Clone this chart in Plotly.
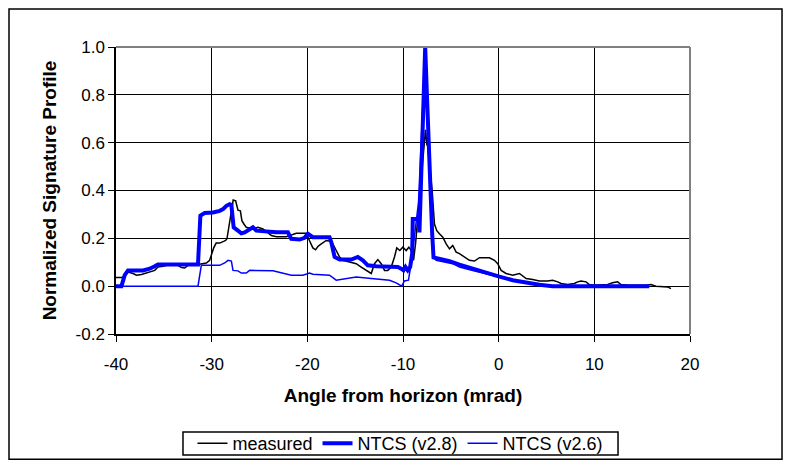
import plotly.graph_objects as go

# ---- data ----
measured_x = [-40.0, -39.33, -39.09, -38.74, -38.22, -37.86, -37.34, -36.82, -36.30, -35.95,
              -35.61, -35.09, -34.04, -33.52, -33.16, -32.82, -32.48, -31.95, -31.43, -30.91,
              -30.55, -30.21, -30.03, -29.79, -29.53, -29.16, -28.75, -28.54, -28.40, -28.19,
              -27.94, -27.75, -27.49, -27.25, -27.00, -26.84, -26.63, -26.38, -25.69, -25.16,
              -24.64, -23.76, -23.24, -22.20, -21.15, -20.11, -19.77, -19.42, -19.14, -18.90,
              -18.54, -18.02, -17.60, -17.33, -16.98, -16.63, -16.29, -15.59, -14.89, -14.37,
              -13.84, -13.32, -12.98, -12.63, -12.28, -11.93, -11.59, -11.23, -10.89, -10.65,
              -10.33, -10.02, -9.67, -9.39, -9.14, -8.90, -8.69, -8.45, -8.10, -7.65,
              -7.51, -7.41, -7.23, -6.95, -6.71, -6.47, -6.19, -5.84, -5.49, -5.14,
              -4.80, -4.44, -4.10, -3.58, -3.06, -2.53, -2.01, -0.97, -0.44, -0.10,
              0.26, 0.78, 1.47, 2.17, 2.87, 3.56, 4.26, 5.12, 5.64, 6.17,
              6.52, 7.21, 7.91, 8.26, 8.61, 9.13, 9.48, 10.0, 11.39, 11.91,
              12.43, 12.79, 13.66, 15.40, 15.92, 16.44, 17.13, 17.65, 18.01]
measured_y = [0.036, 0.036, 0.046, 0.059, 0.053, 0.046, 0.049, 0.055, 0.059, 0.066,
              0.080, 0.083, 0.094, 0.087, 0.078, 0.076, 0.087, 0.091, 0.091, 0.094,
              0.097, 0.108, 0.130, 0.160, 0.180, 0.180, 0.187, 0.191, 0.198, 0.246,
              0.315, 0.360, 0.357, 0.318, 0.315, 0.274, 0.260, 0.246, 0.239, 0.246,
              0.239, 0.212, 0.207, 0.207, 0.221, 0.221, 0.190, 0.160, 0.152, 0.166,
              0.177, 0.191, 0.188, 0.177, 0.149, 0.122, 0.108, 0.101, 0.094, 0.080,
              0.066, 0.053, 0.094, 0.111, 0.094, 0.066, 0.066, 0.080, 0.122, 0.160,
              0.149, 0.163, 0.149, 0.163, 0.149, 0.108, 0.177, 0.288, 0.481, 0.654,
              0.592, 0.585, 0.509, 0.398, 0.260, 0.232, 0.219, 0.205, 0.177, 0.156,
              0.170, 0.142, 0.136, 0.122, 0.108, 0.105, 0.119, 0.119, 0.108, 0.094,
              0.066, 0.053, 0.046, 0.053, 0.032, 0.028, 0.022, 0.022, 0.025, 0.018,
              0.011, 0.007, 0.011, 0.018, 0.022, 0.018, 0.007, 0.004, 0.007, 0.014,
              0.018, 0.007, 0.004, 0.004, 0.007, 0.000, -0.003, -0.003, -0.010]

v28_x = [-40.0, -39.43, -39.09, -38.74, -37.17, -36.48, -35.95, -35.61, -31.43, -31.33,
         -31.18, -30.73, -29.86, -29.16, -28.81, -28.46, -28.12, -27.94, -27.84, -27.70,
         -27.25, -26.90, -26.55, -26.03, -25.69, -25.33, -24.64, -23.24, -22.03, -21.68,
         -20.81, -20.29, -19.94, -19.77, -19.42, -17.68, -17.50, -17.15, -16.63, -15.41,
         -14.72, -14.20, -13.68, -12.80, -11.76, -11.06, -10.54, -10.19, -9.95, -9.74,
         -9.50, -9.25, -9.04, -8.98, -8.35, -8.28, -7.68, -7.51, -7.23, -6.95,
         -6.81, -6.19, -5.49, -5.14, -4.10, -2.71, -1.31, 0.08, 1.47, 2.87,
         4.26, 5.64, 15.74]
v28_y = [0.0, 0.0, 0.046, 0.066, 0.066, 0.073, 0.083, 0.091, 0.091, 0.177,
         0.295, 0.306, 0.308, 0.315, 0.322, 0.336, 0.343, 0.340, 0.281, 0.246,
         0.232, 0.221, 0.225, 0.239, 0.246, 0.232, 0.229, 0.225, 0.225, 0.198,
         0.195, 0.202, 0.219, 0.215, 0.205, 0.205, 0.184, 0.122, 0.111, 0.111,
         0.122, 0.108, 0.087, 0.083, 0.083, 0.083, 0.080, 0.073, 0.066, 0.080,
         0.066, 0.080, 0.136, 0.281, 0.281, 0.225, 1.000, 0.810, 0.470, 0.220,
         0.120, 0.115, 0.110, 0.105, 0.090, 0.072, 0.055, 0.040, 0.025, 0.014,
         0.006, 0.0, 0.0]

v26_x = [-40.0, -31.43, -31.08, -29.16, -28.64, -28.29, -27.94, -27.77, -27.25, -26.90,
         -26.38, -26.03, -23.59, -22.20, -21.68, -20.46, -19.77, -19.42, -17.68, -16.98,
         -16.29, -14.89, -13.32, -11.41, -10.71, -10.13, -9.85, -9.43, -9.14, -8.38,
         -7.68, -7.23, -6.81, -6.53, -4.80, -4.10, -2.71, -1.31, 0.08, 1.47,
         2.87, 4.26, 5.64, 15.74]
v26_y = [0.0, 0.0, 0.087, 0.087, 0.097, 0.108, 0.105, 0.066, 0.064, 0.055,
         0.055, 0.066, 0.064, 0.053, 0.046, 0.046, 0.055, 0.050, 0.046, 0.025,
         0.030, 0.038, 0.032, 0.025, 0.014, 0.0, 0.022, 0.025, 0.095, 0.350,
         0.980, 0.450, 0.120, 0.108, 0.094, 0.080, 0.065, 0.050, 0.038, 0.025,
         0.014, 0.006, 0.0, 0.0]

x_tickvals = [-40, -30, -20, -10, 0, 10, 20]
x_ticktext = ["-40", "-30", "-20", "-10", "0", "10", "20"]
y_tickvals = [-0.2, 0.0, 0.2, 0.4, 0.6, 0.8, 1.0]
y_ticktext = ["-0.2", "0.0", "0.2", "0.4", "0.6", "0.8", "1.0"]

x_title = "Angle from horizon (mrad)"
y_title = "Normalized Signature Profile"
series_names = ["measured", "NTCS (v2.8)", "NTCS (v2.6)"]

FONT = "Liberation Sans, Arial, sans-serif"

fig = go.Figure()
fig.add_trace(go.Scatter(x=measured_x, y=measured_y, mode="lines", name=series_names[0],
                         line=dict(color="#000000", width=1.5)))
fig.add_trace(go.Scatter(x=v28_x, y=v28_y, mode="lines", name=series_names[1],
                         line=dict(color="#0000FF", width=4)))
fig.add_trace(go.Scatter(x=v26_x, y=v26_y, mode="lines", name=series_names[2],
                         line=dict(color="#0000FF", width=1.5)))

# plot-area gray border (top and right edges)
fig.add_shape(type="line", xref="paper", yref="paper", x0=0, x1=1, y0=1, y1=1,
              line=dict(color="#808080", width=2), layer="above")
fig.add_shape(type="line", xref="paper", yref="paper", x0=1, x1=1, y0=0, y1=1,
              line=dict(color="#808080", width=2), layer="above")
# outer chart border
fig.add_shape(type="rect", xref="paper", yref="paper", x0=-0.1864, x1=1.1603, y0=-0.436, y1=1.132,
              line=dict(color="#000000", width=1.5), layer="below")
# legend frame
fig.add_shape(type="rect", xref="paper", yref="paper", x0=0.1167, x1=0.8746, y0=-0.4216, y1=-0.3415,
              line=dict(color="#000000", width=1.5), fillcolor="white", layer="below")

fig.update_layout(
    width=783, height=461,
    margin=dict(l=108, r=101, t=39, b=135, autoexpand=False),
    paper_bgcolor="white", plot_bgcolor="white",
    font=dict(family=FONT, size=17, color="black"),
    showlegend=True,
    legend=dict(orientation="h", x=0.4956, xanchor="center", y=-0.3815, yanchor="middle",
                borderwidth=0, bgcolor="rgba(0,0,0,0)",
                font=dict(family=FONT, size=18)),
)
fig.update_xaxes(range=[-40, 20], tickmode="array", tickvals=x_tickvals, ticktext=x_ticktext,
                 showgrid=True, gridcolor="black", gridwidth=1,
                 zeroline=False, showline=True, linecolor="black", linewidth=1.5,
                 ticks="outside", ticklen=6, tickcolor="black", ticklabelstandoff=8,
                 tickfont=dict(family=FONT, size=17),
                 title=dict(text="<b>" + x_title + "</b>", font=dict(family=FONT, size=19), standoff=16))
fig.update_yaxes(range=[-0.2, 1.0], tickmode="array", tickvals=y_tickvals, ticktext=y_ticktext,
                 showgrid=True, gridcolor="black", gridwidth=1, zeroline=False,
                 showline=True, linecolor="black", linewidth=1.5,
                 ticks="outside", ticklen=6, tickcolor="black",
                 tickfont=dict(family=FONT, size=17),
                 title=dict(text="<b>" + y_title + "</b>", font=dict(family=FONT, size=19), standoff=14))

fig.write_html("out.html")
